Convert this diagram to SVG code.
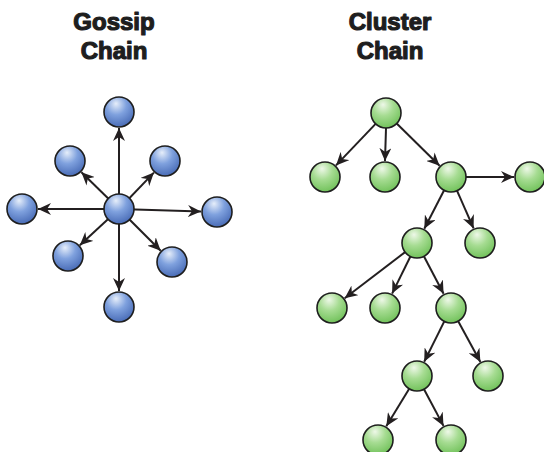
<svg xmlns="http://www.w3.org/2000/svg" width="544" height="452" viewBox="0 0 544 452">
<style>
.t{font-family:"Liberation Sans",Arial,sans-serif;font-weight:bold;font-size:24px;fill:#1e1e1e;stroke:#1e1e1e;stroke-width:1.2;stroke-linejoin:round;text-anchor:middle}
.b{fill:url(#gb);stroke:#1e1e1e;stroke-width:1.6}
.g{fill:url(#gg);stroke:#1e1e1e;stroke-width:1.6}
.e{stroke:#231f20;stroke-width:2;fill:none;marker-end:url(#ah)}
</style>
<defs>
<radialGradient id="gb" cx="0.42" cy="0.3" r="0.75" fx="0.4" fy="0.22">
<stop offset="0" stop-color="#e6eefa"/>
<stop offset="0.45" stop-color="#7fa1de"/>
<stop offset="1" stop-color="#4366b2"/>
</radialGradient>
<radialGradient id="gg" cx="0.42" cy="0.3" r="0.75" fx="0.4" fy="0.22">
<stop offset="0" stop-color="#eef8e8"/>
<stop offset="0.45" stop-color="#a6dc92"/>
<stop offset="1" stop-color="#6cbf55"/>
</radialGradient>
<marker id="ah" markerUnits="userSpaceOnUse" markerWidth="14" markerHeight="12" viewBox="0 0 14 12" refX="13" refY="6" orient="auto">
<path d="M0,0 L13,6 L0,12 L4,6 z" fill="#231f20"/>
</marker>
</defs>
<text class="t" x="114" y="30">Gossip</text>
<text class="t" x="114" y="59">Chain</text>
<text class="t" x="390" y="30">Cluster</text>
<text class="t" x="390" y="59">Chain</text>
<g id="connectors">
<line class="e" x1="119" y1="209" x2="119" y2="128"/>
<line class="e" x1="119" y1="209" x2="81.4" y2="172.2"/>
<line class="e" x1="119" y1="209" x2="153.9" y2="172.6"/>
<line class="e" x1="119" y1="209" x2="38" y2="209"/>
<line class="e" x1="119" y1="209" x2="201" y2="211.5"/>
<line class="e" x1="119" y1="209" x2="79.8" y2="245.2"/>
<line class="e" x1="119" y1="209" x2="160.7" y2="250.7"/>
<line class="e" x1="119" y1="209" x2="119" y2="291"/>
<line class="e" x1="375.6" y1="123.9" x2="336" y2="165.4"/>
<line class="e" x1="386" y1="128" x2="385" y2="161"/>
<line class="e" x1="396.7" y1="123.5" x2="439.6" y2="165.8"/>
<line class="e" x1="466" y1="177" x2="514" y2="177"/>
<line class="e" x1="444.1" y1="190.3" x2="424.3" y2="228.8"/>
<line class="e" x1="457" y1="190.7" x2="473.6" y2="228.4"/>
<line class="e" x1="405.1" y1="252.1" x2="344.7" y2="298.3"/>
<line class="e" x1="410.4" y1="256.5" x2="392.1" y2="293.6"/>
<line class="e" x1="423.9" y1="256.3" x2="443.6" y2="293.8"/>
<line class="e" x1="444.3" y1="321.4" x2="424.2" y2="361.7"/>
<line class="e" x1="458.2" y1="321.2" x2="480.4" y2="361.9"/>
<line class="e" x1="409.2" y1="388.8" x2="386.3" y2="426.3"/>
<line class="e" x1="424" y1="389.2" x2="443.5" y2="425.9"/>
</g>
<g id="g-top"><circle class="b" cx="119" cy="112" r="15"/></g>
<g id="g-ul"><circle class="b" cx="70" cy="161" r="15"/></g>
<g id="g-ur"><circle class="b" cx="165" cy="161" r="15"/></g>
<g id="g-left"><circle class="b" cx="22" cy="209" r="15"/></g>
<g id="g-center"><circle class="b" cx="119" cy="209" r="15"/></g>
<g id="g-right"><circle class="b" cx="217" cy="212" r="15"/></g>
<g id="g-ll"><circle class="b" cx="68" cy="256" r="15"/></g>
<g id="g-lr"><circle class="b" cx="172" cy="262" r="15"/></g>
<g id="g-bottom"><circle class="b" cx="119" cy="307" r="15"/></g>
<g id="c-root"><circle class="g" cx="386" cy="113" r="15"/></g>
<g id="c-1a"><circle class="g" cx="325" cy="177" r="15"/></g>
<g id="c-1b"><circle class="g" cx="385" cy="177" r="15"/></g>
<g id="c-1c"><circle class="g" cx="451" cy="177" r="15"/></g>
<g id="c-1d"><circle class="g" cx="530" cy="177" r="15"/></g>
<g id="c-2a"><circle class="g" cx="417" cy="243" r="15"/></g>
<g id="c-2b"><circle class="g" cx="480" cy="243" r="15"/></g>
<g id="c-3a"><circle class="g" cx="332" cy="308" r="15"/></g>
<g id="c-3b"><circle class="g" cx="385" cy="308" r="15"/></g>
<g id="c-3c"><circle class="g" cx="451" cy="308" r="15"/></g>
<g id="c-4a"><circle class="g" cx="417" cy="376" r="15"/></g>
<g id="c-4b"><circle class="g" cx="488" cy="376" r="15"/></g>
<g id="c-5a"><circle class="g" cx="378" cy="440" r="15"/></g>
<g id="c-5b"><circle class="g" cx="451" cy="440" r="15"/></g>
</svg>
